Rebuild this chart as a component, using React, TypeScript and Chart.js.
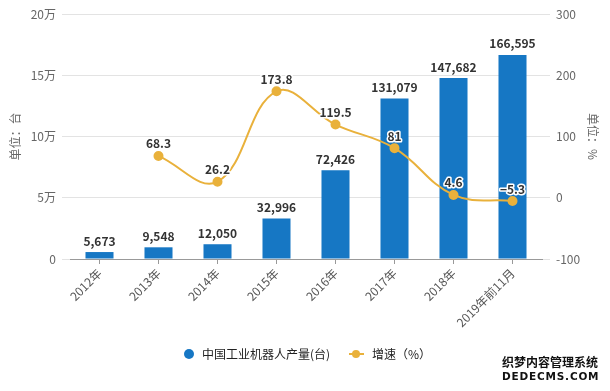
import React, { useEffect, useRef } from "react";
import { Chart, registerables } from "chart.js";

Chart.register(...registerables);

const categories = ["2012年", "2013年", "2014年", "2015年", "2016年", "2017年", "2018年", "2019年前11月"];
const output = [5673, 9548, 12050, 32996, 72426, 131079, 147682, 166595];
const growth: (number | null)[] = [null, 68.3, 26.2, 173.8, 119.5, 81, 4.6, -5.3];
const leftTickLabels = ["0", "5万", "10万", "15万", "20万"];
const rightTickLabels = ["-100", "0", "100", "200", "300"];
const seriesNames = ["中国工业机器人产量(台)", "增速（%）"];

const BLUE = "#1677c4";
const GOLD = "#e9b13b";
const FONT = "'Noto Sans CJK SC', 'Microsoft YaHei', sans-serif";

const labelPlugin = {
  id: "valueLabels",
  afterDatasetsDraw(chart: any) {
    const ctx = chart.ctx;
    ctx.save();
    ctx.font = `bold 12px ${FONT}`;
    ctx.textAlign = "center";
    ctx.textBaseline = "bottom";
    ctx.fillStyle = "#333";
    const barMeta = chart.getDatasetMeta(0);
    barMeta.data.forEach((el: any, i: number) => {
      ctx.fillText(output[i].toLocaleString("en-US"), el.x, el.y - 5);
    });
    const lineMeta = chart.getDatasetMeta(1);
    lineMeta.data.forEach((el: any, i: number) => {
      const v = growth[i];
      if (v == null) return;
      const t = v < 0 ? "−" + String(-v) : String(v);
      ctx.lineWidth = 3;
      ctx.lineJoin = "round";
      ctx.strokeStyle = "#fff";
      ctx.strokeText(t, el.x, el.y - 6);
      ctx.fillText(t, el.x, el.y - 6);
    });
    ctx.restore();
  },
};

export default function App() {
  const ref = useRef<HTMLCanvasElement | null>(null);

  useEffect(() => {
    if (!ref.current) return;
    const chart = new Chart(ref.current, {
      type: "bar",
      data: {
        labels: categories,
        datasets: [
          {
            type: "bar",
            label: seriesNames[0],
            data: output,
            backgroundColor: BLUE,
            yAxisID: "y",
            categoryPercentage: 1,
            barPercentage: 0.475,
            order: 1,
          },
          {
            type: "line",
            label: seriesNames[1],
            data: growth,
            borderColor: GOLD,
            backgroundColor: GOLD,
            borderWidth: 2,
            pointRadius: 4,
            pointBackgroundColor: GOLD,
            pointBorderColor: GOLD,
            tension: 0.4,
            yAxisID: "y1",
            order: 0,
          } as any,
        ],
      },
      options: {
        animation: false,
        responsive: false,
        maintainAspectRatio: false,
        layout: { padding: { top: 14, left: 0, right: 0, bottom: 0 } },
        plugins: {
          legend: { display: false },
          tooltip: { enabled: false },
        },
        scales: {
          x: {
            offset: true,
            grid: {
              offset: false,
              drawOnChartArea: false,
              drawTicks: true,
              tickLength: 5,
              color: "#999",
            },
            border: { color: "#999" },
            ticks: {
              maxRotation: 45,
              minRotation: 45,
              autoSkip: false,
              padding: 2,
              color: "#555",
              font: { size: 12, family: FONT },
            },
            afterFit: (s: any) => {
              s.height = 391 - 259;
            },
          },
          y: {
            position: "left",
            min: 0,
            max: 200000,
            ticks: {
              stepSize: 50000,
              padding: 6,
              color: "#666",
              font: { size: 12, family: FONT },
              callback: (_v: any, i: number) => leftTickLabels[i],
            },
            grid: { color: "#e3e3e3", tickLength: 8 },
            border: { display: false },
            title: {
              display: true,
              text: "单位：台",
              color: "#666",
              font: { size: 12, family: FONT },
              padding: { top: 8, bottom: 0 },
            },
            afterFit: (s: any) => {
              s.width = 70;
            },
          },
          y1: {
            position: "right",
            min: -100,
            max: 300,
            ticks: {
              stepSize: 100,
              padding: 6,
              color: "#666",
              font: { size: 12, family: FONT },
              callback: (_v: any, i: number) => rightTickLabels[i],
            },
            grid: { drawOnChartArea: false, color: "#e3e3e3", tickLength: 8 },
            border: { display: false },
            title: {
              display: true,
              text: "单位：%",
              color: "#666",
              font: { size: 12, family: FONT },
              padding: { top: 10, bottom: 0 },
            },
            afterFit: (s: any) => {
              s.width = 68;
            },
          },
        },
      },
      plugins: [labelPlugin],
    });
    return () => chart.destroy();
  }, []);

  const textStyle: React.CSSProperties = {
    position: "absolute",
    top: 346,
    fontSize: 12,
    lineHeight: "16px",
    color: "#222",
    fontFamily: FONT,
    whiteSpace: "nowrap",
  };

  return (
    <div style={{ position: "absolute", left: 0, top: 0, width: 610, height: 391, background: "#fff", overflow: "hidden" }}>
      <canvas ref={ref} width={610} height={391} style={{ display: "block" }} />
      <div style={{ position: "absolute", left: 184, top: 349, width: 10, height: 10, borderRadius: "50%", background: BLUE }} />
      <div style={{ ...textStyle, left: 202 }}>{seriesNames[0]}</div>
      <div style={{ position: "absolute", left: 349, top: 353, width: 15, height: 2, background: GOLD }} />
      <div style={{ position: "absolute", left: 352, top: 350, width: 8, height: 8, borderRadius: "50%", background: GOLD }} />
      <div style={{ ...textStyle, left: 372 }}>{seriesNames[1]}</div>
      <div
        style={{
          position: "absolute",
          left: 502,
          top: 355,
          fontSize: 12,
          lineHeight: "14px",
          fontWeight: "bold",
          color: "#111",
          fontFamily: FONT,
          textShadow: "0 0 2px #fff, 0 0 2px #fff",
          whiteSpace: "nowrap",
        }}
      >
        <div>织梦内容管理系统</div>
        <div style={{ letterSpacing: 0.8, fontFamily: "'DejaVu Sans', sans-serif", fontSize: 10.5 }}>DEDECMS.COM</div>
      </div>
    </div>
  );
}
